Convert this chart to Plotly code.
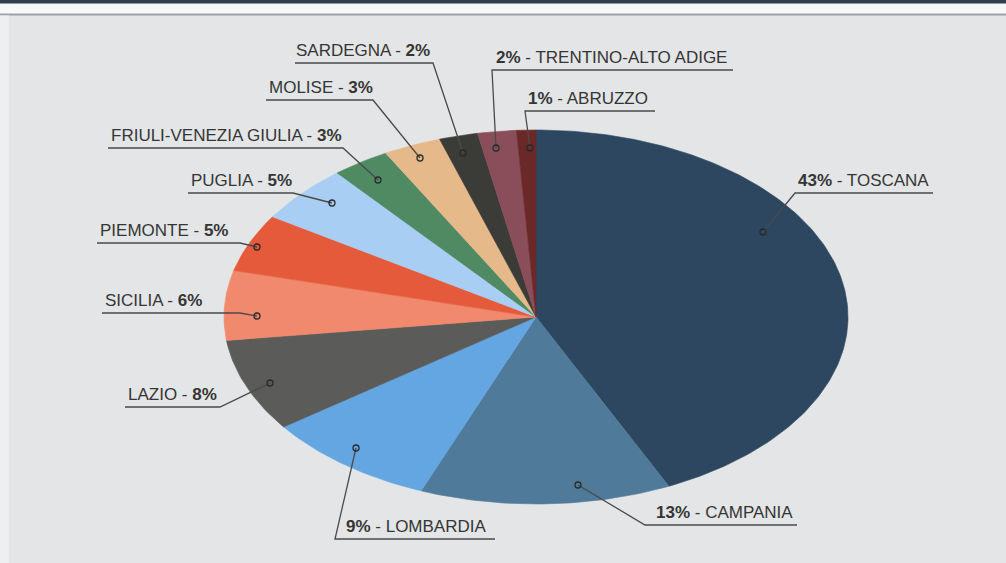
import numpy as np
import plotly.graph_objects as go

# ---------------- data ----------------
regions = ["TOSCANA", "CAMPANIA", "LOMBARDIA", "LAZIO", "SICILIA", "PIEMONTE",
           "PUGLIA", "FRIULI-VENEZIA GIULIA", "MOLISE", "SARDEGNA",
           "TRENTINO-ALTO ADIGE", "ABRUZZO"]
shares = [43, 13, 9, 8, 6, 5, 5, 3, 3, 2, 2, 1]

# ---------------- style ----------------
colors = ["#2d4760", "#4f7a9a", "#64a6e2", "#5b5b59", "#f1896c", "#e65a3c",
          "#a8cff3", "#4f8a63", "#e6b98b", "#3b3b37", "#8a4e5a", "#6b2829"]

W, H = 1006, 563
CX, CY, A, B = 536, 317, 312, 187   # ellipse centre / semi-axes in pixels


def px(x):
    return (x - CX) / A


def py(y):
    return (CY - y) / B


# leader layout in pixels: dot, elbow, underline end, text anchor x
leaders = {
    "TOSCANA": ((763, 232), (795, 193), (933, 193), 931),
    "CAMPANIA": ((578, 485), (645, 525), (797, 525), 795),
    "LOMBARDIA": ((356, 448), (335, 539), (495, 539), 344),
    "LAZIO": ((270, 383), (220, 407), (125, 407), 126),
    "SICILIA": ((257, 316), (240, 313), (102, 313), 103),
    "PIEMONTE": ((257, 247), (240, 243), (97, 243), 98),
    "PUGLIA": ((332, 203), (293, 193), (188, 193), 189),
    "FRIULI-VENEZIA GIULIA": ((378, 180), (343, 148), (108, 148), 109),
    "MOLISE": ((420, 158), (373, 100), (266, 100), 267),
    "SARDEGNA": ((463, 153), (433, 63), (295, 63), 294),
    "TRENTINO-ALTO ADIGE": ((496, 148), (492, 70), (733, 70), 494),
    "ABRUZZO": ((530, 148), (525, 111), (655, 111), 526),
}
right_text = {"TOSCANA", "CAMPANIA", "LOMBARDIA", "TRENTINO-ALTO ADIGE", "ABRUZZO"}

fig = go.Figure()

# ---------------- slices (unit circle, stretched by the axes into an ellipse) ----------------
total = float(sum(shares))
start = 0.0
for name, val, col in zip(regions, shares, colors):
    frac = val / total
    n = max(int(frac * 400), 6)
    th = np.linspace(start, start + frac, n) * 2 * np.pi
    xs = np.concatenate([[0], np.sin(th), [0]])
    ys = np.concatenate([[0], np.cos(th), [0]])
    fig.add_trace(go.Scatter(x=xs, y=ys, mode="lines", fill="toself",
                             fillcolor=col, line=dict(color=col, width=0.6),
                             hoverinfo="text", text=f"{name}: {val}%",
                             showlegend=False))
    start += frac

# ---------------- leader lines and labels ----------------
font = dict(family="Liberation Sans, Arial, sans-serif", size=17, color="#353535")
for name, val in zip(regions, shares):
    dot, elbow, end, tx = leaders[name]
    fig.add_trace(go.Scatter(
        x=[px(dot[0]), px(elbow[0]), px(end[0])],
        y=[py(dot[1]), py(elbow[1]), py(end[1])],
        mode="lines", line=dict(color="#4a4a4a", width=1.3),
        hoverinfo="skip", showlegend=False))
    fig.add_trace(go.Scatter(
        x=[px(dot[0])], y=[py(dot[1])], mode="markers",
        marker=dict(size=6, color="rgba(0,0,0,0)", line=dict(color="#2a2a2a", width=1.3)),
        hoverinfo="skip", showlegend=False))
    if name in right_text:
        txt = f"<b>{val}%</b> - {name}"
    else:
        txt = f"{name} - <b>{val}%</b>"
    xanchor = "right" if name in ("TOSCANA", "CAMPANIA") else "left"
    fig.add_annotation(x=px(tx), y=py(end[1] - 1), text=txt, showarrow=False,
                       xanchor=xanchor, yanchor="bottom", font=font)

# ---------------- page decoration ----------------
shapes = [
    dict(type="rect", xref="paper", yref="paper", x0=0, x1=1, y0=1 - 14 / H, y1=1,
         fillcolor="#f7f8f8", line_width=0, layer="below"),
    dict(type="rect", xref="paper", yref="paper", x0=0, x1=1, y0=1 - 3.5 / H, y1=1,
         fillcolor="#2f3f4d", line_width=0, layer="below"),
    dict(type="line", xref="paper", yref="paper", x0=0, x1=1, y0=1 - 14.5 / H, y1=1 - 14.5 / H,
         line=dict(color="#9ea2a3", width=2), layer="below"),
    dict(type="rect", xref="paper", yref="paper", x0=0, x1=9 / W, y0=0, y1=1 - 15.5 / H,
         fillcolor="#eeeff0", line_width=0, layer="below"),
]

fig.update_layout(
    width=W, height=H,
    margin=dict(l=0, r=0, t=0, b=0),
    paper_bgcolor="#e3e5e6",
    plot_bgcolor="rgba(0,0,0,0)",
    xaxis=dict(range=[px(0), px(W)], visible=False, fixedrange=True),
    yaxis=dict(range=[py(H), py(0)], visible=False, fixedrange=True),
    shapes=shapes,
    showlegend=False,
)

fig.write_html("out.html", config={"displayModeBar": False},
               post_script="document.body.style.margin='0';document.body.style.overflow='hidden';")
